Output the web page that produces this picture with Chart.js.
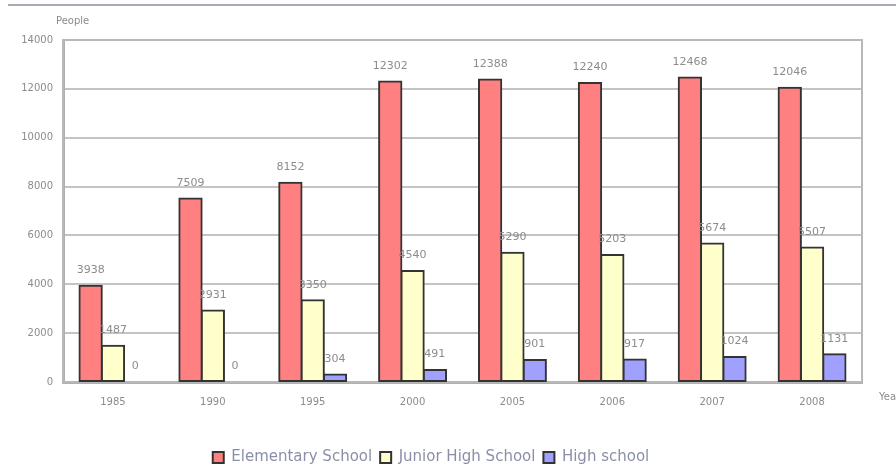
<!DOCTYPE html>
<html>
<head>
<meta charset="utf-8">
<script src="https://cdn.jsdelivr.net/npm/chart.js@4/dist/chart.umd.min.js"></script>
<style>
  html, body { margin: 0; padding: 0; background: #fff; }
  #wrap { width: 896px; height: 475px; position: relative; }
</style>
</head>
<body>
<div id="wrap"><canvas id="students"></canvas></div>
<script>
// enrolment per year, by school level
var years = ["1985", "1990", "1995", "2000", "2005", "2006", "2007", "2008"];
var elementary = [3938, 7509, 8152, 12302, 12388, 12240, 12468, 12046];
var juniorHigh = [1487, 2931, 3350, 4540, 5290, 5203, 5674, 5507];
var highSchool = [0, 0, 304, 491, 901, 917, 1024, 1131];
var yTicks = [0, 2000, 4000, 6000, 8000, 10000, 12000, 14000];

var textGray = "#8c8c8c";

// value labels above each bar, the axis names, the plot frame and the rule at the top
var extras = {
    id: "extras",
    beforeDraw: function(chart) {
        var ctx = chart.ctx;
        ctx.save();
        ctx.strokeStyle = "#a8a8b8";
        ctx.lineWidth = 2;
        ctx.beginPath();
        ctx.moveTo(8, 5);
        ctx.lineTo(896, 5);
        ctx.stroke();
        ctx.restore();
    },
    beforeDatasetsDraw: function(chart) {
        var ctx = chart.ctx;
        var a = chart.chartArea;
        ctx.save();
        ctx.strokeStyle = "#b8b8b8";
        ctx.lineWidth = 2;
        ctx.strokeRect(a.left, a.top, a.right - a.left, a.bottom - a.top);
        ctx.restore();
    },
    afterDatasetsDraw: function(chart) {
        var ctx = chart.ctx;
        var area = chart.chartArea;
        ctx.save();
        ctx.font = "11px 'DejaVu Sans'";
        ctx.fillStyle = textGray;
        ctx.textAlign = "center";
        ctx.textBaseline = "bottom";
        chart.data.datasets.forEach(function(ds, i) {
            chart.getDatasetMeta(i).data.forEach(function(bar, j) {
                ctx.fillText(String(ds.data[j]), bar.x, bar.y - 10);
            });
        });
        ctx.font = "10px 'DejaVu Sans'";
        ctx.textAlign = "left";
        ctx.fillText("People", 56, 26);
        ctx.textBaseline = "middle";
        ctx.fillText("Year", area.right + 17, area.bottom + 15);
        ctx.restore();
    }
};

var ctx = document.getElementById("students").getContext("2d");

var chart = new Chart(ctx, {
    type: "bar",
    data: {
        labels: years,
        datasets: [
            { label: "Elementary School", data: elementary, backgroundColor: "#ff8080" },
            { label: "Junior High School", data: juniorHigh, backgroundColor: "#ffffcc" },
            { label: "High school", data: highSchool, backgroundColor: "#a0a0ff" }
        ]
    },
    options: {
        responsive: true,
        maintainAspectRatio: false,
        animation: false,
        layout: { padding: { top: 40, right: 34, left: 0, bottom: 0 } },
        datasets: {
            bar: {
                borderColor: "#333",
                borderWidth: 2,
                borderSkipped: false,
                inflateAmount: 1,
                categoryPercentage: 0.67,
                barPercentage: 1
            }
        },
        scales: {
            x: {
                grid: { display: false, drawTicks: false },
                border: { color: "#b0b0b0", width: 3 },
                ticks: { color: textGray, font: { size: 10, family: "DejaVu Sans" }, padding: 14 },
                afterFit: function(scale) { scale.height = 60; }
            },
            y: {
                min: 0,
                max: 14000,
                afterBuildTicks: function(scale) {
                    scale.ticks = yTicks.map(function(v) { return { value: v }; });
                },
                grid: { color: "#c4c4c4", lineWidth: 2, drawTicks: false },
                border: { color: "#b0b0b0", width: 3 },
                ticks: {
                    color: textGray,
                    font: { size: 10, family: "DejaVu Sans" },
                    padding: 10,
                    callback: function(v) { return String(v); }
                },
                afterFit: function(scale) { scale.width = 63; }
            }
        },
        plugins: {
            legend: {
                position: "bottom",
                labels: {
                    boxWidth: 11,
                    boxHeight: 11,
                    color: "#8a8fa8",
                    font: { size: 15, family: "DejaVu Sans" },
                    padding: 8
                }
            },
            tooltip: { enabled: false }
        }
    },
    plugins: [extras]
});
</script>
</body>
</html>
